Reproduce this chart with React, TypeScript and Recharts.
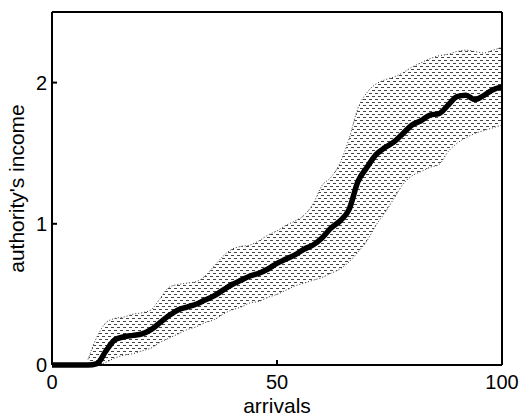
import React from "react";
import { Area, ComposedChart, Label, Line, XAxis, YAxis } from "recharts";

// arrivals sampled every 2
const arrivals = [
  0, 2, 4, 6, 8, 10, 12, 14, 16, 18, 20, 22, 24, 26, 28, 30, 32, 34, 36, 38, 40, 42, 44, 46, 48, 50,
  52, 54, 56, 58, 60, 62, 64, 66, 68, 70, 72, 74, 76, 78, 80, 82, 84, 86, 88, 90, 92, 94, 96, 98, 100,
];

// mean income (thick black line)
const meanIncome = [
  0, 0, 0, 0, 0, 0.01, 0.1, 0.18, 0.2, 0.21, 0.22, 0.25, 0.3, 0.35, 0.39, 0.41, 0.43, 0.46, 0.49, 0.53,
  0.57, 0.6, 0.63, 0.65, 0.68, 0.72, 0.75, 0.78, 0.82, 0.85, 0.9, 0.97, 1.02, 1.1, 1.3, 1.4, 1.49, 1.54,
  1.58, 1.64, 1.7, 1.73, 1.77, 1.78, 1.84, 1.9, 1.91, 1.88, 1.91, 1.95, 1.97,
];

// dotted band, upper and lower edges
const upperIncome = [
  null, null, null, null, 0.04, 0.2, 0.3, 0.33, 0.34, 0.36, 0.37, 0.39, 0.47, 0.55, 0.57, 0.58, 0.59,
  0.63, 0.7, 0.77, 0.82, 0.84, 0.85, 0.88, 0.92, 0.95, 0.99, 1.02, 1.06, 1.14, 1.27, 1.33, 1.43, 1.6,
  1.82, 1.93, 1.99, 2.02, 2.04, 2.07, 2.11, 2.14, 2.17, 2.19, 2.2, 2.22, 2.23, 2.22, 2.21, 2.23, 2.25,
];
const lowerIncome = [
  null, null, null, null, 0, 0, 0.02, 0.05, 0.07, 0.08, 0.1, 0.12, 0.16, 0.19, 0.22, 0.25, 0.27, 0.3,
  0.32, 0.36, 0.39, 0.41, 0.44, 0.45, 0.48, 0.5, 0.53, 0.56, 0.58, 0.6, 0.62, 0.65, 0.68, 0.73, 0.8,
  0.88, 0.99, 1.08, 1.18, 1.28, 1.34, 1.37, 1.4, 1.42, 1.51, 1.57, 1.61, 1.64, 1.66, 1.68, 1.7,
];

const xTicks = [0, 50, 100];
const yTicks = [0, 1, 2];

const data = arrivals.map((x, i) => ({
  x,
  mean: meanIncome[i],
  upper: upperIncome[i],
  lower: lowerIncome[i],
  band: upperIncome[i] == null ? null : [lowerIncome[i], upperIncome[i]],
}));

const font = "'Liberation Sans', Arial, Helvetica, sans-serif";
const tickStyle = { fill: "#000", fontSize: 20, fontFamily: font };

function YTitle(props: any) {
  const vb = props.viewBox || { x: 0, y: 0, width: 0, height: 0 };
  const cx = vb.x + 24;
  const cy = vb.y + vb.height / 2;
  return (
    <text x={cx} y={cy} transform={`rotate(-90 ${cx} ${cy})`} textAnchor="middle" fontSize={21} fontFamily={font} fill="#000">
      authority's income
    </text>
  );
}

export default function App() {
  return (
    <div style={{ position: "absolute", left: 0, top: 0, width: 519, height: 416, background: "#fff" }}>
      <ComposedChart width={519} height={416} data={data} margin={{ top: 11, right: 16, left: 0, bottom: 0 }}>
        <defs>
          <pattern id="dashes" width="6" height="6" patternUnits="userSpaceOnUse">
            <rect x="0" y="0" width="3" height="1" fill="#444" />
            <rect x="3" y="3" width="3" height="1" fill="#444" />
          </pattern>
        </defs>
        <XAxis
          dataKey="x"
          type="number"
          domain={[0, 100]}
          ticks={xTicks}
          height={51}
          stroke="#000"
          strokeWidth={2}
          tickSize={-5}
          tickMargin={15}
          tick={tickStyle}
        >
          <Label value="arrivals" position="insideBottom" offset={3} fontSize={21} fontFamily={font} fill="#000" />
        </XAxis>
        <XAxis
          xAxisId="top"
          orientation="top"
          dataKey="x"
          type="number"
          domain={[0, 100]}
          ticks={xTicks}
          height={1}
          stroke="#000"
          strokeWidth={2}
          tickSize={-5}
          tick={false}
        />
        <YAxis
          type="number"
          domain={[0, 2.5]}
          ticks={yTicks}
          width={52}
          stroke="#000"
          strokeWidth={2}
          tickSize={-5}
          tickMargin={10}
          tick={tickStyle}
          label={<YTitle />}
        />
        <YAxis
          yAxisId="right"
          orientation="right"
          type="number"
          domain={[0, 2.5]}
          ticks={yTicks}
          width={1}
          stroke="#000"
          strokeWidth={2}
          tickSize={-5}
          tick={false}
        />
        <Area dataKey="band" type="monotone" stroke="none" fill="url(#dashes)" fillOpacity={1} isAnimationActive={false} />
        <Line dataKey="upper" type="monotone" stroke="#333" strokeWidth={1} strokeDasharray="1 2" dot={false} isAnimationActive={false} />
        <Line dataKey="lower" type="monotone" stroke="#333" strokeWidth={1} strokeDasharray="1 2" dot={false} isAnimationActive={false} />
        <Line dataKey="mean" type="monotone" stroke="#000" strokeWidth={5.5} dot={false} isAnimationActive={false} />
      </ComposedChart>
    </div>
  );
}
